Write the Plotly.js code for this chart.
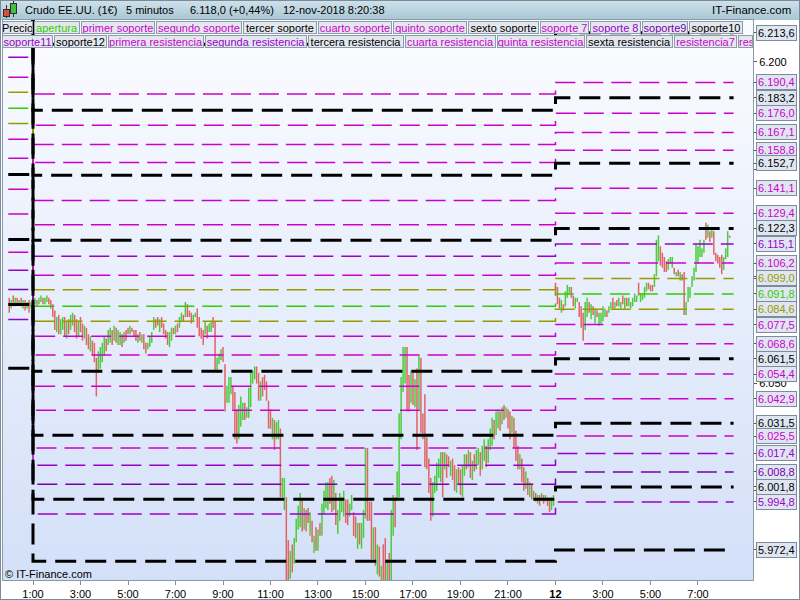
<!DOCTYPE html>
<html><head><meta charset="utf-8">
<script src="https://cdn.plot.ly/plotly-3.0.1.min.js"></script>
<style>
html,body{margin:0;padding:0;background:#fff;}
#wrap{position:relative;width:800px;height:600px;overflow:hidden;background:#fff;}
#hdr{position:absolute;left:0;top:0;width:800px;height:20px;background:linear-gradient(#cfe2ea,#a8c6d4);}
#pbg{position:absolute;left:3px;top:20px;width:750px;height:560px;background:linear-gradient(#fbfcff,#d3e0f8);}
#frame{position:absolute;left:0;top:0;width:798px;height:598px;border:1px solid #7b8b9a;pointer-events:none;}
#chart{position:absolute;left:0;top:0;width:800px;height:600px;}
.wk{position:absolute;width:1px;background:#303030;}
.bd{position:absolute;border:1px solid #303030;}
</style></head>
<body>
<div id="wrap">
<div id="hdr"></div>
<div id="pbg"></div>
<div class="wk" style="left:6px;top:5px;height:13px;"></div>
<div class="bd" style="left:3px;top:9px;width:5px;height:6px;background:#e04848;"></div>
<div class="wk" style="left:13px;top:1px;height:16px;"></div>
<div class="bd" style="left:10px;top:3px;width:5px;height:9px;background:#40c040;"></div>
<div id="chart"></div>
<div id="frame"></div>
</div>
<script>
// ---------- price bars (5 minute) ----------
const preOpen  = [6.090,6.085,6.091,6.086,6.090,6.087,6.090,6.085,6.089,6.085,6.089,6.085];
const preClose = [6.083,6.089,6.087,6.090,6.087,6.089,6.086,6.089,6.084,6.088,6.083,6.088];

const d1Open = [
6.090,6.087,6.089,6.087,6.088,6.090,6.087,6.088,6.090,6.089,
6.087,6.084,6.074,6.082,6.073,6.075,6.081,6.071,6.080,6.075,
6.077,6.082,6.080,6.072,6.081,6.078,6.071,6.076,6.073,6.065,
6.070,6.069,6.062,6.055,6.057,6.060,6.063,6.071,6.068,6.069,
6.075,6.070,6.076,6.068,6.068,6.073,6.069,6.075,6.076,6.073,
6.076,6.075,6.075,6.069,6.074,6.069,6.073,6.069,6.066,6.067,
6.069,6.075,6.080,6.081,6.074,6.081,6.078,6.075,6.074,6.067,
6.070,6.076,6.073,6.078,6.076,6.079,6.082,6.081,6.087,6.084,
6.083,6.079,6.081,6.085,6.081,6.076,6.075,6.073,6.077,6.074,
6.074,6.081,6.079,6.055,6.059,6.061,6.067,6.059,6.041,6.041,
6.045,6.049,6.046,6.038,6.024,6.030,6.033,6.041,6.034,6.034,
6.039,6.050,6.052,6.058,6.055,6.042,6.053,6.054,6.051,6.042,
6.038,6.024,6.033,6.024,6.024,6.029,5.997,5.991,5.997,5.977,
5.959,5.975,5.966,5.976,5.982,5.983,5.996,5.982,5.991,5.992,
5.979,5.986,5.971,5.983,5.972,5.985,5.979,5.989,5.992,5.991,
6.006,6.007,5.991,5.999,5.980,5.986,5.990,5.988,5.996,5.996,
5.988,5.991,5.990,5.988,5.973,5.985,5.973,5.978,5.987,6.020,
5.995,5.995,5.968,5.983,5.961,5.974,5.958,5.975,5.978,5.958,
5.971,5.958,5.979,5.997,5.996,5.997,6.024,6.046,6.050,6.067,
6.054,6.041,6.055,6.039,6.057,6.038,6.062,6.036,6.045,6.025,
6.015,6.006,5.988,5.999,6.000,6.006,6.004,6.018,6.010,6.017,
6.016,6.007,6.015,6.012,5.999,6.011,6.010,5.997,6.007,6.017,
6.011,6.018,6.005,6.017,6.010,6.012,6.018,6.010,6.014,6.021,
6.013,6.019,6.021,6.033,6.026,6.029,6.037,6.031,6.040,6.034,
6.038,6.037,6.027,6.034,6.028,6.021,6.010,6.015,6.011,6.001,
6.006,5.997,6.003,5.996,5.999,5.994,5.998,5.996,5.998,5.995,
5.997,5.996,5.991,5.993];
const d1Close = [
6.086,6.090,6.086,6.090,6.091,6.087,6.090,6.091,6.087,6.085,
6.081,6.075,6.081,6.073,6.080,6.081,6.072,6.079,6.073,6.082,
6.083,6.074,6.071,6.079,6.074,6.070,6.077,6.068,6.066,6.072,
6.063,6.060,6.044,6.065,6.067,6.069,6.072,6.065,6.075,6.076,
6.068,6.077,6.069,6.075,6.074,6.067,6.074,6.070,6.073,6.077,
6.074,6.072,6.070,6.073,6.070,6.073,6.066,6.064,6.069,6.072,
6.074,6.081,6.076,6.077,6.080,6.076,6.073,6.071,6.068,6.074,
6.076,6.073,6.077,6.074,6.081,6.083,6.079,6.088,6.081,6.081,
6.078,6.082,6.083,6.076,6.072,6.071,6.068,6.079,6.071,6.078,
6.079,6.076,6.056,6.062,6.064,6.066,6.060,6.037,6.049,6.053,
6.053,6.038,6.024,6.022,6.040,6.044,6.041,6.033,6.039,6.048,
6.055,6.056,6.058,6.050,6.042,6.051,6.044,6.047,6.042,6.029,
6.029,6.034,6.019,6.032,6.033,5.997,6.006,6.006,5.958,5.958,
5.972,5.962,5.978,5.987,5.993,5.999,5.981,5.992,5.981,5.985,
5.990,5.976,5.979,5.972,5.982,5.979,5.994,6.000,6.004,6.004,
5.994,5.990,6.005,5.984,5.991,5.999,5.997,6.000,5.985,5.984,
5.994,5.998,5.979,5.978,5.985,5.975,5.985,5.991,6.020,5.986,
5.986,5.968,5.983,5.965,5.975,5.960,5.965,5.958,5.958,5.968,
5.958,5.991,5.998,5.983,6.009,6.036,6.053,6.067,6.067,6.037,
6.037,6.056,6.040,6.052,6.019,6.063,6.027,6.024,6.011,6.010,
5.999,5.986,6.004,6.007,6.013,6.015,6.018,5.997,6.018,6.006,
6.011,6.014,6.005,6.000,6.010,6.003,5.998,6.012,6.017,6.010,
6.019,6.006,6.014,6.009,6.019,6.020,6.007,6.021,6.024,6.011,
6.024,6.029,6.034,6.024,6.037,6.038,6.028,6.039,6.033,6.039,
6.029,6.024,6.035,6.020,6.014,6.010,6.017,6.004,6.000,6.009,
5.998,6.004,5.996,6.000,5.995,5.998,5.993,5.999,5.994,5.998,
5.993,5.990,5.997,5.998];

const d2Open = [
6.097,6.095,6.090,6.083,6.087,6.086,6.090,6.092,6.095,6.091,
6.085,6.088,6.088,6.086,6.083,6.075,6.081,6.088,6.080,6.086,
6.078,6.084,6.077,6.078,6.079,6.081,6.084,6.083,6.085,6.090,
6.085,6.089,6.086,6.085,6.091,6.085,6.090,6.086,6.085,6.086,
6.088,6.088,6.097,6.088,6.089,6.090,6.093,6.097,6.096,6.096,
6.095,6.100,6.107,6.114,6.111,6.109,6.107,6.103,6.106,6.104,
6.104,6.100,6.103,6.098,6.101,6.102,6.082,6.088,6.090,6.095,
6.098,6.102,6.106,6.109,6.109,6.111,6.125,6.118,6.121,6.118,
6.121,6.111,6.110,6.109,6.110,6.103,6.108,6.109,6.119];
const d2Close = [
6.091,6.087,6.085,6.089,6.084,6.093,6.096,6.095,6.090,6.086,
6.090,6.090,6.081,6.076,6.070,6.088,6.090,6.083,6.087,6.082,
6.085,6.081,6.083,6.083,6.086,6.085,6.081,6.086,6.088,6.085,
6.088,6.086,6.090,6.088,6.087,6.090,6.086,6.090,6.088,6.090,
6.092,6.091,6.091,6.092,6.092,6.095,6.097,6.094,6.093,6.093,
6.101,6.117,6.119,6.105,6.104,6.102,6.102,6.108,6.109,6.109,
6.101,6.102,6.100,6.102,6.098,6.082,6.088,6.095,6.095,6.100,
6.104,6.115,6.114,6.117,6.113,6.117,6.117,6.124,6.116,6.123,
6.110,6.107,6.106,6.104,6.101,6.109,6.113,6.121,6.118];

// ---------- x axis ticks (bar index) ----------
const tickPos  = [0,24,48,72,96,120,144,168,192,216,240,264,288,312,336];
const tickText = ['1:00','3:00','5:00','7:00','9:00','11:00','13:00','15:00','17:00','19:00','21:00','<b>12</b>','3:00','5:00','7:00'];

// ---------- y axis ticks (6.000 / 6.100 / 6.150 are hidden behind level boxes) ----------
const yTickVals = [6.00,6.05,6.10,6.15,6.20];
const yTickText = ['','6.050','','','6.200'];

// ---------- support / resistance levels ----------
const levelNames = ['resistencia12','resistencia11','resistencia10','resistencia9','resistencia8','resistencia7','sexta resistencia','quinta resistencia','cuarta resistencia','tercera resistencia','segunda resistencia','primera resistencia','pivote alto','apertura','pivote bajo','primer soporte','segundo soporte','tercer soporte','cuarto soporte','quinto soporte','sexto soporte','soporte 7','soporte 8','soporte9','soporte10','soporte11','soporte12'];
const levelColors = ['#000000','#cc00cc','#000000','#cc00cc','#cc00cc','#cc00cc','#000000','#cc00cc','#cc00cc','#000000','#9900cc','#cc00cc','#999900','#33cc00','#999900','#cc00cc','#cc00cc','#000000','#cc00cc','#cc00cc','#000000','#cc00cc','#9900cc','#7700aa','#000000','#9900cc','#000000'];
const levelPre  = [6.300,6.277,6.269,6.262,6.254,6.245,6.239,6.228,6.216,6.209,6.2021,6.1928,6.1858,6.1783,6.1713,6.1639,6.1550,6.1475,6.1406,6.1290,6.1172,6.1112,6.1028,6.0939,6.0869,6.0799,6.0571];
const levelDay1 = [6.2082,6.1850,6.1774,6.1704,6.1615,6.1531,6.1471,6.1354,6.1240,6.1168,6.1093,6.1005,6.0937,6.0860,6.0791,6.0720,6.0633,6.0557,6.0487,6.0375,6.0259,6.0199,6.0119,6.0030,5.9960,5.9892,5.9671];
const levelDay2 = [6.2136,6.1904,6.1832,6.1760,6.1671,6.1588,6.1527,6.1411,6.1294,6.1223,6.1151,6.1062,6.0990,6.0918,6.0846,6.0775,6.0686,6.0615,6.0544,6.0429,6.0315,6.0255,6.0174,6.0088,6.0018,5.9948,5.9724];

// ---------- legend boxes ----------
const legRow1 = ['Precio','apertura','primer soporte','segundo soporte','tercer soporte','cuarto soporte','quinto soporte','sexto soporte','soporte 7','soporte 8','soporte9','soporte10'];
const legRow1Col = ['#000000','#33cc00','#cc00cc','#cc00cc','#000000','#cc00cc','#cc00cc','#000000','#cc00cc','#9900cc','#7700aa','#000000'];
const legRow2 = ['soporte11','soporte12','primera resistencia','segunda resistencia','tercera resistencia','cuarta resistencia','quinta resistencia','sexta resistencia','resistencia7','res'];
const legRow2Col = ['#9900cc','#000000','#cc00cc','#9900cc','#000000','#cc00cc','#cc00cc','#000000','#cc00cc','#cc00cc'];

// ---------- layout helpers (pixel placement) ----------
const legRow1Left = [2,34,81,156,243,318,393,468,540,590,642,689];
const legRow1W    = [31,46,74,86,74,74,74,71,49,51,46,54];
const legRow2Left = [2,54,108,205,308,405,497,586,674,738];
const legRow2W    = [51,53,96,102,96,91,88,87,63,15];
const PL = 3, PW = 750, PT = 20, PH = 560;
const px = x => (x - PL) / PW;
const py = y => 1 - (y - PT) / PH;

// bars
const bx = [], bo = [], bc = [], bh = [], bl = [];
function addBars(o, c, start) {
  for (let k = 0; k < o.length; k++) {
    bx.push(start + k); bo.push(o[k]); bc.push(c[k]);
    bh.push(Math.max(o[k], c[k])); bl.push(Math.min(o[k], c[k]));
  }
}
addBars(preOpen, preClose, -preOpen.length);
addBars(d1Open, d1Close, 0);
addBars(d2Open, d2Close, d1Open.length);

const traces = [{
  type: 'ohlc', x: bx, open: bo, high: bh, low: bl, close: bc,
  increasing: {line: {color: '#4ccc3c', width: 1.5}},
  decreasing: {line: {color: '#e06464', width: 1.5}},
  tickwidth: 0, hoverinfo: 'skip', showlegend: false
}];

const day2Start = d1Open.length;
const lineEnd = 354;
const order = [];
levelNames.forEach((n, i) => { if (levelColors[i] !== '#000000') order.push(i); });
levelNames.forEach((n, i) => { if (levelColors[i] === '#000000') order.push(i); });
order.forEach(i => {
  const black = levelColors[i] === '#000000';
  traces.push({
    type: 'scatter', mode: 'lines', name: levelNames[i],
    x: [-12.5, 0, day2Start, lineEnd],
    y: [levelPre[i], levelDay1[i], levelDay2[i], levelDay2[i]],
    line: {shape: 'hv', color: levelColors[i], width: black ? 3 : 1.5, dash: black ? '21px,9px' : '20px,8px'},
    hoverinfo: 'skip', showlegend: false
  });
});

function fmt(v) { const s = v.toFixed(4); return s.slice(0, 5) + ',' + s.slice(5); }

const ann = [];
// right-side level labels
levelDay2.forEach((v, i) => {
  ann.push({xref: 'paper', yref: 'y', x: 1, y: v, xanchor: 'left', yanchor: 'middle', xshift: 3,
    text: fmt(v), showarrow: false, font: {size: 11, color: levelColors[i]},
    bgcolor: '#dfe6f1', bordercolor: '#7d8b9a', borderwidth: 1, borderpad: 1});
});
// legend rows
legRow1.forEach((t, i) => {
  ann.push({xref: 'paper', yref: 'paper', x: px(legRow1Left[i]), y: py(20.5), xanchor: 'left', yanchor: 'top',
    text: t, showarrow: false, font: {size: 11, color: legRow1Col[i]}, width: legRow1W[i] - 2, height: 11,
    align: 'center', bgcolor: '#e3e8ee', bordercolor: '#8d9cab', borderwidth: 1, borderpad: 0});
});
legRow2.forEach((t, i) => {
  ann.push({xref: 'paper', yref: 'paper', x: px(legRow2Left[i]), y: py(34.5), xanchor: 'left', yanchor: 'top',
    text: t, showarrow: false, font: {size: 11, color: legRow2Col[i]}, width: legRow2W[i] - 2, height: 11,
    align: i === legRow2.length - 1 ? 'left' : 'center', bgcolor: '#e3e8ee', bordercolor: '#8d9cab', borderwidth: 1, borderpad: 0});
});
// header
const hdr = [['Crudo EE.UU. (1€)', 23], ['5 minutos', 124], ['6.118,0 (+0,44%)', 188], ['12-nov-2018 8:20:38', 281]];
hdr.forEach(h => ann.push({xref: 'paper', yref: 'paper', x: px(h[1]), y: py(10.5), xanchor: 'left', yanchor: 'middle',
  text: h[0], showarrow: false, font: {size: 11, color: '#000'}}));
ann.push({xref: 'paper', yref: 'paper', x: px(793), y: py(10.5), xanchor: 'right', yanchor: 'middle',
  text: 'IT-Finance.com', showarrow: false, font: {size: 11.5, color: '#000'}});
ann.push({xref: 'paper', yref: 'paper', x: px(3), y: py(574), xanchor: 'left', yanchor: 'middle',
  text: '© IT-Finance.com', showarrow: false, font: {size: 11, color: '#000'}});

const layout = {
  width: 800, height: 600,
  margin: {l: 3, r: 47, t: 20, b: 20, pad: 0},
  paper_bgcolor: 'rgba(0,0,0,0)', plot_bgcolor: 'rgba(0,0,0,0)',
  showlegend: false,
  font: {family: 'Liberation Sans, Arial, sans-serif', size: 11, color: '#000'},
  xaxis: {range: [-15.16, 363.8], rangeslider: {visible: false}, showgrid: false, zeroline: false,
    tickmode: 'array', tickvals: tickPos, ticktext: tickText, ticks: 'outside', ticklen: 4,
    tickcolor: '#7f8f9f', showline: true, linecolor: '#8a9aaa', mirror: true, tickfont: {size: 11, color: '#000'}},
  yaxis: {side: 'right', range: [5.9584, 6.2195], showgrid: false, zeroline: false,
    tickmode: 'array', tickvals: yTickVals.concat(levelDay2), ticktext: yTickText.concat(levelDay2.map(() => '')),
    ticks: 'outside', ticklen: 3, tickcolor: '#555', showline: true, linecolor: '#8a9aaa', mirror: true,
    tickfont: {size: 11, color: '#000'}},
  annotations: ann
};

Plotly.newPlot('chart', traces, layout, {staticPlot: true});
</script>
</body></html>
